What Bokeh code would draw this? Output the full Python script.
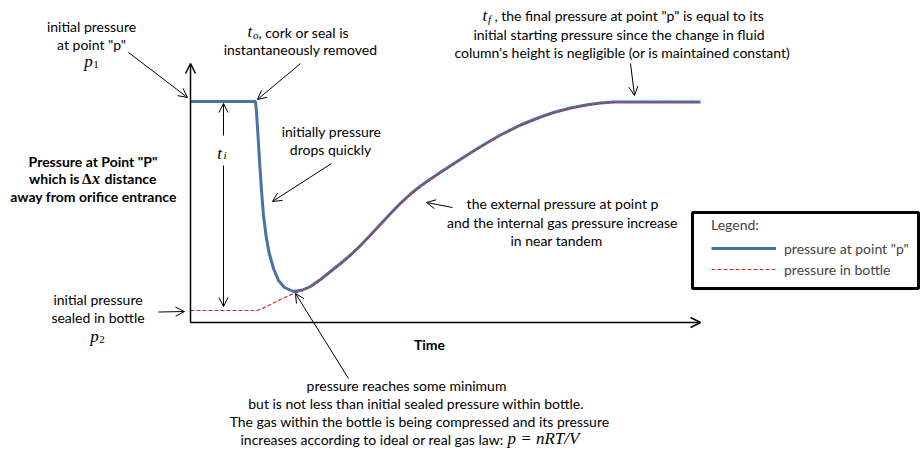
from bokeh.plotting import figure
from bokeh.models import Label, Arrow, OpenHead, Range1d, Legend, LegendItem, BoxAnnotation
from bokeh.embed import file_html
from bokeh.resources import INLINE

# ---- data (time, pressure in arbitrary units; origin at the axes corner) ----
time_point_p = [0, 65, 66, 67.5, 69, 71, 73, 75.5, 78.5, 83, 88, 94, 103, 112, 120, 130, 140,
                150, 160, 170, 180, 190, 200, 210, 220, 230, 240, 250, 260, 270, 283, 297, 310,
                330, 350, 363, 380, 397, 410, 423, 510]
pressure_point_p = [221, 221, 210, 187, 162, 132, 107, 87, 70, 54, 42, 35, 31, 32.5, 36, 43, 51,
                    59, 67.5, 77, 87.5, 98.3, 109, 119.2, 128.5, 136.5, 143.5, 150.2, 156.8, 163.3,
                    171.5, 180, 187.5, 197.5, 205.5, 210, 214.5, 217.8, 219.5, 220.5, 220.5]

time_bottle = [0, 67, 76, 85, 94, 103, 112, 120, 130, 140, 150, 160, 170, 180, 190, 200, 210,
               220, 230, 240, 250, 260, 270, 283, 297, 310, 330, 350, 363, 380, 397, 410, 423,
               510]
pressure_bottle = [12, 12, 16, 20.5, 25, 29, 32, 35.5, 42.5, 50.5, 58.5, 67, 76.5, 87, 97.8,
                   108.5, 118.7, 128, 136, 143, 149.7, 156.3, 162.8, 171, 179.5, 187, 197, 205,
                   209.5, 214, 217.3, 219, 220, 220]

series_labels = ['pressure at point "p"', "pressure in bottle"]

OX, OY = 190, 322   # picture position of the axes corner


def X(px):
    return px - OX


def Y(py):
    return OY - py


FONT = "Lato"
MATH = "Liberation Serif"

p = figure(width=922, height=454, x_range=Range1d(-OX, 922 - OX), y_range=Range1d(OY - 454, OY),
           output_backend="svg", toolbar_location=None, min_border=0,
           x_axis_location=None, y_axis_location=None)
p.grid.visible = False
p.outline_line_color = None
p.background_fill_color = "white"
p.border_fill_color = "white"

# axes drawn as arrows
p.add_layout(Arrow(end=OpenHead(size=10, line_width=1.5, line_color="black"),
                   x_start=0, y_start=0, x_end=0, y_end=Y(63), line_width=1.5, line_color="black"))
p.add_layout(Arrow(end=OpenHead(size=10, line_width=1.5, line_color="black"),
                   x_start=0, y_start=0, x_end=X(700), y_end=0, line_width=1.5, line_color="black"))

blue = p.line(time_point_p, pressure_point_p, line_color="#4672a8", line_width=3)
red = p.line(time_bottle, pressure_bottle, line_color="#d62a2a", line_width=1.2, line_dash="4 2")


def lab(px, py, text, size=14, style="normal", font=FONT, align="center"):
    p.add_layout(Label(x=X(px), y=Y(py), text=text, text_font=font, text_font_size=f"{size}px",
                       text_font_style=style, text_align=align, text_baseline="middle",
                       text_color="black"))


def arrow(x0, y0, x1, y1):
    p.add_layout(Arrow(end=OpenHead(size=9, line_width=1, line_color="black"),
                       x_start=X(x0), y_start=Y(y0), x_end=X(x1), y_end=Y(y1),
                       line_width=1, line_color="black"))


# top-left
lab(91, 25.7, "initial pressure")
lab(91, 43.7, 'at point "p"')
lab(88, 61, "p", 17, "italic", MATH)
lab(95.5, 64, "1", 11, "normal", MATH)
arrow(128, 52, 187, 97)

# t_o
lab(247, 31, "t", 17, "italic", MATH, "left")
lab(252.5, 34.5, "o", 11, "italic", MATH, "left")
lab(258, 31.7, ", cork or seal is", align="left")
lab(300, 49.3, "instantaneously removed")
arrow(300, 63, 257, 99)

# drops quickly
lab(331, 130.7, "initially pressure")
lab(330, 149, "drops quickly")
arrow(331, 163, 272, 201)

# t_i
lab(219, 152.5, "t", 17, "italic", MATH)
lab(224.5, 154.5, "i", 11, "italic", MATH)
arrow(223, 135, 223, 103)
arrow(223, 165, 223, 306)

# y label
lab(92.5, 161, 'Pressure at Point "P"', style="bold")
lab(79, 178.3, "which is", style="bold", align="right")
lab(81.5, 178, "\u0394", 15, "bold", MATH, "left")
lab(91.5, 177.5, "x", 16, "bold italic", MATH, "left")
lab(104, 178.3, "distance", style="bold", align="left")
lab(93, 196, "away from orifice entrance", style="bold")

# bottom-left
lab(97.5, 299, "initial pressure")
lab(97.5, 316.7, "sealed in bottle")
lab(94, 335.5, "p", 17, "italic", MATH)
lab(101.5, 339, "2", 11, "normal", MATH)
arrow(158, 311.5, 184, 311)

# x label
lab(429, 344, "Time", style="bold")

# minimum
lab(406, 385, "pressure reaches some minimum")
lab(415.5, 403, "but is not less than initial sealed pressure within bottle.")
lab(419, 421, "The gas within the bottle is being compressed and its pressure")
lab(503, 439, "increases according to ideal or real gas law:", align="right")
lab(507, 437.5, "p = nRT/V", 17, "italic", MATH, "left")
arrow(348, 378, 295, 293)

# external pressure
lab(562, 203.3, "the external pressure at point p")
lab(561.7, 221.7, "and the internal gas pressure increase")
lab(556, 240, "in near tandem")
arrow(452, 207, 426, 202)

# t_f
lab(482, 15, "t", 17, "italic", MATH, "left")
lab(487.5, 18.5, "f", 11, "italic", MATH, "left")
lab(494, 15, ', the final pressure at point "p" is equal to its', align="left")
lab(618.5, 33.7, "initial starting pressure since the change in fluid")
lab(621.7, 52.3, "column's height is negligible (or is maintained constant)")
arrow(630, 63, 634, 95)

# legend box + legend
p.add_layout(BoxAnnotation(left=X(692), right=X(918), top=Y(212), bottom=Y(288),
                           fill_alpha=0, line_color="black", line_alpha=1, line_width=3))
legend = Legend(items=[LegendItem(label=series_labels[0], renderers=[blue]),
                       LegendItem(label=series_labels[1], renderers=[red])],
                title="Legend:", location=(711, 175), padding=0, margin=0,
                border_line_color=None, background_fill_alpha=0,
                glyph_width=65, glyph_height=20, label_height=20, label_standoff=8,
                spacing=1, title_standoff=5,
                label_text_font=FONT, label_text_font_size="14px",
                title_text_font=FONT, title_text_font_size="14px", title_text_font_style="normal")
p.add_layout(legend)

open("out.html", "w").write(file_html(p, INLINE))
